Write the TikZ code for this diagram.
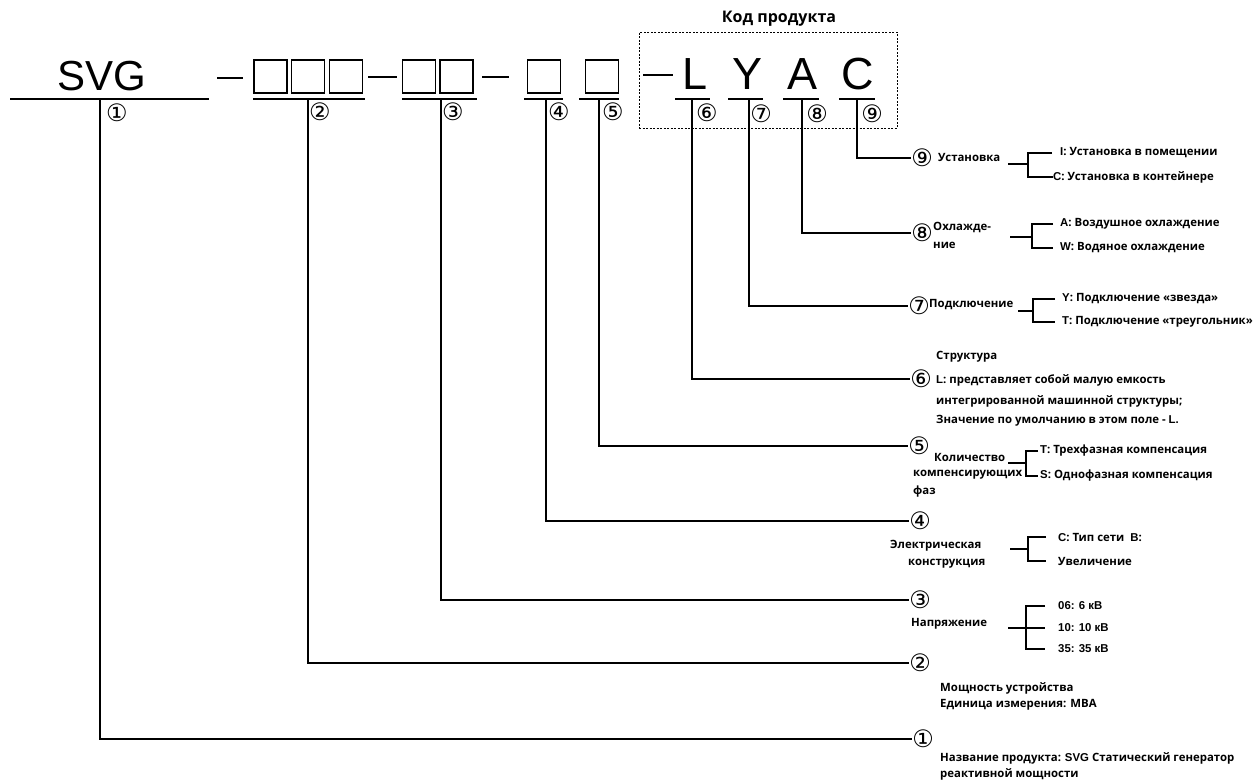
\documentclass[tikz,border=0pt]{standalone}
\usepackage{fontspec}
\setmainfont{Open Sans}
\newfontfamily\arialf{Liberation Sans}
\newfontfamily\circfont{DejaVu Sans}
\newcommand{\latn}[1]{{\arialf\bfseries #1}}
\begin{document}
\begin{tikzpicture}[x=1pt,y=-1pt,
  lbl/.style={font=\bfseries\fontsize{11.4}{13}\selectfont, inner sep=0pt, anchor=west},
  circ/.style={font=\circfont\fontsize{24}{24}\selectfont, inner sep=0pt},
  big/.style={font=\arialf\fontsize{42}{42}\selectfont, inner sep=0pt, anchor=base},
  bigc/.style={font=\arialf\fontsize{45}{45}\selectfont, inner sep=0pt, anchor=base},
  uline/.style={line width=2.8pt},
  conn/.style={line width=1.1pt},
  cell/.style={draw, line width=1.2pt, minimum width=33pt, minimum height=33pt, inner sep=0pt},
  dashln/.style={line width=2.4pt},
  title/.style={font=\bfseries\fontsize{16}{18}\selectfont, inner sep=0pt}
]
\useasboundingbox (0,0) rectangle (1256,780);

% ---------- top code line ----------
\node[big] (svg) at (102,90) {SVG};
\coordinate (d1a) at (217,78); \coordinate (d1b) at (243,78);
\draw[dashln] (d1a) -- (d1b);
\node[cell] (b1) at (270.5,76.5) {};
\node[cell] (b2) at (308,76.5) {};
\node[cell] (b3) at (346,76.5) {};
\coordinate (d2a) at (368,77); \coordinate (d2b) at (397,77);
\draw[dashln] (d2a) -- (d2b);
\node[cell] (b4) at (419,76.5) {};
\node[cell] (b5) at (456.5,76.5) {};
\coordinate (d3a) at (482,77); \coordinate (d3b) at (509,77);
\draw[dashln] (d3a) -- (d3b);
\node[cell] (b6) at (544,76.5) {};
\node[cell] (b7) at (602,76.5) {};

\node[title] (kod) at (779,19) {Код продукта};
\node[draw, dashed, line width=0.8pt, dash pattern=on 2pt off 1.5pt, minimum width=258pt, minimum height=96pt, inner sep=0pt] (frame) at (768,80) {};
\coordinate (d4a) at (643,75); \coordinate (d4b) at (673,75);
\draw[dashln] (d4a) -- (d4b);
\node[bigc] (cL) at (695,89) {L};
\node[bigc] (cY) at (747.5,89) {Y};
\node[bigc] (cA) at (802,89) {A};
\node[bigc] (cC) at (858,89) {C};

% underlines
\coordinate (u1a) at (10,99);  \coordinate (u1b) at (209,99);
\coordinate (u2a) at (253,99); \coordinate (u2b) at (365,99);
\coordinate (u3a) at (402,99); \coordinate (u3b) at (477,99);
\coordinate (u4a) at (524,99); \coordinate (u4b) at (563,99);
\coordinate (u5a) at (579,99); \coordinate (u5b) at (619,99);
\coordinate (u6a) at (675,99); \coordinate (u6b) at (710,99);
\coordinate (u7a) at (728,99); \coordinate (u7b) at (763,99);
\coordinate (u8a) at (783,99); \coordinate (u8b) at (819,99);
\coordinate (u9a) at (839,99); \coordinate (u9b) at (875,99);
\foreach \i in {1,...,9} {\draw[uline] (u\i a) -- (u\i b);}

% small circled numbers under the code
\node[circ] (n1) at (117,113) {①};
\node[circ] (n2) at (320,112) {②};
\node[circ] (n3) at (453,112) {③};
\node[circ] (n4) at (559,112) {④};
\node[circ] (n5) at (613,112) {⑤};
\node[circ] (n6) at (707,113) {⑥};
\node[circ] (n7) at (761,114) {⑦};
\node[circ] (n8) at (817,114) {⑧};
\node[circ] (n9) at (872,114) {⑨};

% connector start points
\coordinate (v1) at (100,99);
\coordinate (v2) at (308,99);
\coordinate (v3) at (441,99);
\coordinate (v4) at (546,99);
\coordinate (v5) at (599,99);
\coordinate (v6) at (692,99);
\coordinate (v7) at (749,99);
\coordinate (v8) at (802,99);
\coordinate (v9) at (857,99);

% right circled numbers
\node[circ] (r9) at (922,158) {⑨};
\node[circ] (r8) at (922,233) {⑧};
\node[circ] (r7) at (919,306) {⑦};
\node[circ] (r6) at (921,379) {⑥};
\node[circ] (r5) at (919,446) {⑤};
\node[circ] (r4) at (920,521) {④};
\node[circ] (r3) at (920,600) {③};
\node[circ] (r2) at (920,663) {②};
\node[circ] (r1) at (923,739) {①};

\foreach \i in {1,...,9} {\draw[conn] (v\i) |- (r\i.west);}

% ---------- 9 ----------
\node[lbl] (t9) at (938,157) {Установка};
\node[lbl] (i9a) at (1060,153) {\latn{I}: Установка в помещении};
\node[lbl] (i9b) at (1053,177) {\latn{C}: Установка в контейнере};
\coordinate (s9) at (1008,164); \coordinate (s9e) at (1028,164);
\draw[conn] (s9) -- (s9e);
\draw[conn] ([xshift=-8pt]i9a.west) -| (s9e) |- (i9b.west);

% ---------- 8 ----------
\node[lbl] (t8a) at (933,227) {Охлажде-};
\node[lbl] (t8b) at (933,245) {ние};
\node[lbl] (i8a) at (1060,224) {\latn{A}: Воздушное охлаждение};
\node[lbl] (i8b) at (1060,248) {\latn{W}: Водяное охлаждение};
\coordinate (s8) at (1010,237); \coordinate (s8e) at (1032,237);
\draw[conn] (s8) -- (s8e);
\draw[conn] ([xshift=-7pt]i8a.west) -| (s8e) |- ([xshift=-7pt]i8b.west);

% ---------- 7 ----------
\node[lbl] (t7) at (929,305) {Подключение};
\node[lbl] (i7a) at (1062,299) {\latn{Y}: Подключение «звезда»};
\node[lbl] (i7b) at (1062,322) {\latn{T}: Подключение «треугольник»};
\coordinate (s7) at (1018,311); \coordinate (s7e) at (1033,311);
\draw[conn] (s7) -- (s7e);
\draw[conn] ([xshift=-7pt]i7a.west) -| (s7e) |- ([xshift=-7pt]i7b.west);

% ---------- 6 ----------
\node[lbl] (t6a) at (936,357) {Структура};
\node[lbl] (t6b) at (936,380) {\latn{L}: представляет собой малую емкость};
\node[lbl] (t6c) at (936,401) {интегрированной машинной структуры;};
\node[lbl] (t6d) at (936,421) {Значение по умолчанию в этом поле - \latn{L.}};

% ---------- 5 ----------
\node[lbl] (t5a) at (934,457) {Количество};
\node[lbl] (t5b) at (913,475) {компенсирующих};
\node[lbl] (t5c) at (913,492) {фаз};
\node[lbl] (i5a) at (1040,451) {\latn{T}: Трехфазная компенсация};
\node[lbl] (i5b) at (1040,476) {\latn{S}: Однофазная компенсация};
\coordinate (s5) at (1008,463); \coordinate (s5e) at (1026,463);
\draw[conn] (s5) -- (s5e);
\draw[conn] ([xshift=-2pt]i5a.west) -| (s5e) |- ([xshift=-2pt]i5b.west);

% ---------- 4 ----------
\node[lbl] (t4a) at (890,546) {Электрическая};
\node[lbl] (t4b) at (908,564) {конструкция};
\node[lbl] (i4a) at (1058,537) {\latn{C}: Тип сети\ \ \latn{B}:};
\node[lbl] (i4b) at (1058,561) {Увеличение};
\coordinate (s4) at (1010,549); \coordinate (s4e) at (1028,549);
\draw[conn] (s4) -- (s4e);
\draw[conn] ([xshift=-12pt]i4a.west) -| (s4e) |- ([xshift=-12pt]i4b.west);

% ---------- 3 ----------
\node[lbl] (t3) at (911,624) {Напряжение};
\node[lbl] (i3a) at (1058,606) {\latn{06: 6 кВ}};
\node[lbl] (i3b) at (1058,628) {\latn{10: 10 кВ}};
\node[lbl] (i3c) at (1058,649) {\latn{35: 35 кВ}};
\coordinate (s3) at (1008,628); \coordinate (s3e) at (1026,628);
\draw[conn] (s3) -- ([xshift=-13pt]i3b.west);
\draw[conn] ([xshift=-13pt]i3a.west) -| (s3e) |- ([xshift=-13pt]i3c.west);

% ---------- 2 ----------
\node[lbl] (t2a) at (940,688) {Мощность устройства};
\node[lbl] (t2b) at (940,705) {Единица измерения: МВА};

% ---------- 1 ----------
\node[lbl] (t1a) at (940,758) {Название продукта: \latn{SVG} Статический генератор};
\node[lbl] (t1b) at (940,774) {реактивной мощности};
\end{tikzpicture}
\end{document}
